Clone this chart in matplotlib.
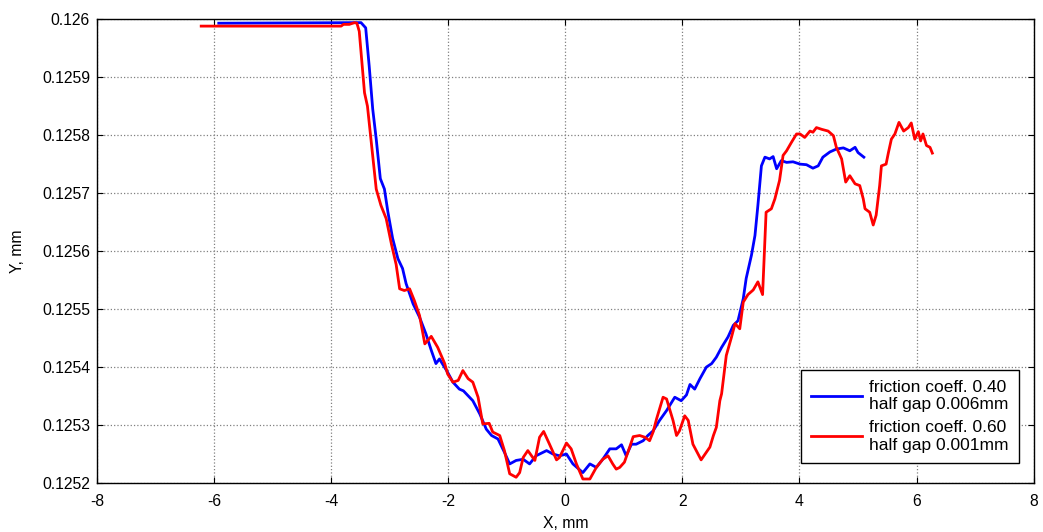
import numpy as np
import matplotlib.pyplot as plt

plt.rcParams['font.family'] = ['Liberation Sans', 'DejaVu Sans']

# friction coeff. 0.40, half gap 0.006mm
x_blue = [-5.92, -3.55, -3.49, -3.41, -3.35, -3.29, -3.23, -3.16, -3.09, -3.03,
          -2.95, -2.86, -2.78, -2.72, -2.60, -2.49, -2.38, -2.29, -2.21, -2.15,
          -2.01, -1.92, -1.81, -1.74, -1.58, -1.46, -1.35, -1.26, -1.15, -1.04,
          -0.95, -0.84, -0.72, -0.61, -0.50, -0.32, -0.21, -0.10, 0.02, 0.13,
          0.30, 0.42, 0.53, 0.64, 0.76, 0.87, 0.96, 1.04, 1.13, 1.21,
          1.33, 1.41, 1.50, 1.61, 1.73, 1.87, 1.98, 2.07, 2.13, 2.21,
          2.30, 2.41, 2.50, 2.58, 2.67, 2.78, 2.87, 2.95, 3.04, 3.09,
          3.18, 3.24, 3.29, 3.35, 3.41, 3.49, 3.55, 3.61, 3.69, 3.78,
          3.89, 4.01, 4.12, 4.23, 4.32, 4.40, 4.52, 4.63, 4.75, 4.86,
          4.95, 5.00, 5.10]
y_blue = [0.125993, 0.125994, 0.125994, 0.125985, 0.125919, 0.125845, 0.125793, 0.125725, 0.125707, 0.125667,
          0.125622, 0.125587, 0.125570, 0.125544, 0.125509, 0.125486, 0.125457, 0.125429, 0.125406, 0.125414,
          0.125391, 0.125374, 0.125362, 0.125359, 0.125342, 0.125319, 0.125293, 0.125282, 0.125276, 0.125253,
          0.125233, 0.125239, 0.125241, 0.125233, 0.125247, 0.125256, 0.125250, 0.125247, 0.125250, 0.125233,
          0.125218, 0.125233, 0.125227, 0.125241, 0.125259, 0.125259, 0.125266, 0.125247, 0.125267, 0.125267,
          0.125273, 0.125282, 0.125290, 0.125308, 0.125325, 0.125348, 0.125342, 0.125352, 0.125370, 0.125362,
          0.125380, 0.125400, 0.125406, 0.125417, 0.125434, 0.125452, 0.125472, 0.125480, 0.125518, 0.125553,
          0.125593, 0.125627, 0.125679, 0.125747, 0.125762, 0.125759, 0.125763, 0.125742, 0.125756, 0.125753,
          0.125754, 0.125750, 0.125749, 0.125743, 0.125747, 0.125762, 0.125771, 0.125776, 0.125778, 0.125773,
          0.125779, 0.125770, 0.125762]

# friction coeff. 0.60, half gap 0.001mm
x_red = [-6.22, -3.83, -3.79, -3.69, -3.60, -3.56, -3.52, -3.47, -3.43, -3.38,
         -3.32, -3.23, -3.15, -3.06, -2.97, -2.89, -2.83, -2.75, -2.66, -2.58,
         -2.49, -2.40, -2.29, -2.18, -2.06, -2.01, -1.92, -1.83, -1.75, -1.66,
         -1.58, -1.49, -1.41, -1.30, -1.24, -1.12, -1.04, -0.95, -0.84, -0.78,
         -0.72, -0.64, -0.52, -0.44, -0.37, -0.27, -0.15, -0.10, 0.02, 0.10,
         0.19, 0.30, 0.42, 0.53, 0.64, 0.73, 0.81, 0.87, 0.93, 1.01,
         1.10, 1.16, 1.27, 1.36, 1.44, 1.50, 1.56, 1.67, 1.73, 1.84,
         1.90, 1.95, 2.04, 2.10, 2.18, 2.32, 2.47, 2.53, 2.58, 2.64,
         2.67, 2.75, 2.84, 2.90, 2.98, 3.04, 3.12, 3.21, 3.29, 3.37,
         3.43, 3.52, 3.58, 3.66, 3.72, 3.78, 3.86, 3.95, 4.01, 4.09,
         4.18, 4.23, 4.29, 4.38, 4.49, 4.58, 4.63, 4.72, 4.79, 4.86,
         4.95, 5.03, 5.09, 5.12, 5.20, 5.26, 5.31, 5.37, 5.40, 5.48,
         5.52, 5.57, 5.63, 5.70, 5.78, 5.86, 5.91, 5.97, 6.03, 6.07,
         6.11, 6.17, 6.23, 6.27]
y_red = [0.125988, 0.125988, 0.125991, 0.125991, 0.125994, 0.125993, 0.125979, 0.125919, 0.125873, 0.125850,
         0.125793, 0.125707, 0.125679, 0.125656, 0.125612, 0.125577, 0.125535, 0.125532, 0.125535, 0.125515,
         0.125489, 0.125440, 0.125453, 0.125434, 0.125406, 0.125388, 0.125374, 0.125377, 0.125394, 0.125380,
         0.125374, 0.125348, 0.125302, 0.125303, 0.125288, 0.125282, 0.125256, 0.125216, 0.125210, 0.125218,
         0.125244, 0.125256, 0.125239, 0.125279, 0.125289, 0.125267, 0.125240, 0.125244, 0.125269, 0.125259,
         0.125233, 0.125207, 0.125207, 0.125227, 0.125241, 0.125247, 0.125233, 0.125224, 0.125227, 0.125236,
         0.125262, 0.125280, 0.125282, 0.125279, 0.125273, 0.125288, 0.125311, 0.125348, 0.125345, 0.125308,
         0.125282, 0.125290, 0.125316, 0.125308, 0.125267, 0.125240, 0.125262, 0.125282, 0.125296, 0.125342,
         0.125354, 0.125420, 0.125452, 0.125475, 0.125466, 0.125512, 0.125525, 0.125533, 0.125547, 0.125525,
         0.125667, 0.125673, 0.125690, 0.125722, 0.125765, 0.125773, 0.125787, 0.125802, 0.125802, 0.125796,
         0.125807, 0.125805, 0.125813, 0.125810, 0.125807, 0.125799, 0.125779, 0.125759, 0.125719, 0.125730,
         0.125716, 0.125713, 0.125690, 0.125673, 0.125667, 0.125645, 0.125662, 0.125713, 0.125747, 0.125750,
         0.125770, 0.125793, 0.125802, 0.125822, 0.125807, 0.125813, 0.125821, 0.125793, 0.125806, 0.125790,
         0.125802, 0.125782, 0.125779, 0.125769]

x_ticks = [-8, -6, -4, -2, 0, 2, 4, 6, 8]
y_ticks = [0.1252, 0.1253, 0.1254, 0.1255, 0.1256, 0.1257, 0.1258, 0.1259, 0.126]
y_tick_labels = ['0.1252', '0.1253', '0.1254', '0.1255', '0.1256', '0.1257', '0.1258', '0.1259', '0.126']

fig = plt.figure(figsize=(10.43, 5.32), dpi=100)
ax = fig.add_axes([0.093, 0.092, 0.898, 0.872])

ax.plot(x_blue, y_blue, color='#0000ff', lw=2, label='friction coeff. 0.40\nhalf gap 0.006mm')
ax.plot(x_red, y_red, color='#ff0000', lw=2, label='friction coeff. 0.60\nhalf gap 0.001mm')

ax.set_xlim(-8, 8)
ax.set_ylim(0.1252, 0.126)
ax.set_xticks(x_ticks)
ax.set_xticklabels([str(t) for t in x_ticks])
ax.set_yticks(y_ticks)
ax.set_yticklabels(y_tick_labels)
ax.tick_params(direction='in', top=True, right=True, length=4, labelsize=11.3, colors='black')
ax.tick_params(axis='x', pad=8)
ax.tick_params(axis='y', pad=5)
ax.grid(True, linestyle=':', color='#808080', lw=0.9)
for s in ax.spines.values():
    s.set_linewidth(1.0)

ax.set_xlabel('X, mm', fontsize=11.3, labelpad=5)
ax.set_ylabel('Y, mm', fontsize=11.3, labelpad=12)

leg = ax.legend(loc='lower right', bbox_to_anchor=(0.984, 0.043), fontsize=12.5,
                fancybox=False, framealpha=1, edgecolor='black', handlelength=2.9,
                borderpad=0.6, labelspacing=0.45, handletextpad=0.4, borderaxespad=0)
leg.get_frame().set_linewidth(1.0)

fig.savefig('out.png', dpi=100)
